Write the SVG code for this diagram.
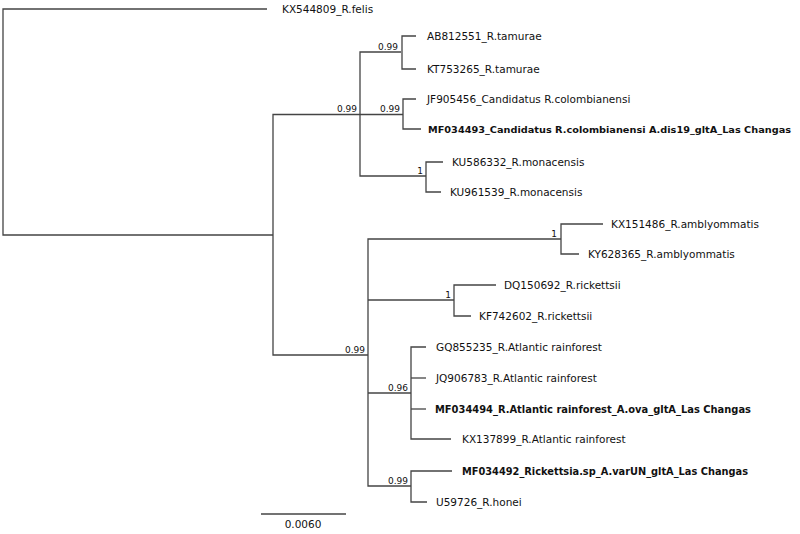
<svg xmlns="http://www.w3.org/2000/svg" width="800" height="534" viewBox="0 0 800 534">
<style>
.br{fill:none;stroke:#444;stroke-width:1.3}
.lf{font-family:"DejaVu Sans",Verdana,sans-serif;font-size:10.5px;fill:#111}
.b{font-weight:bold;font-size:10px}
.bs{font-family:"DejaVu Sans",Verdana,sans-serif;font-size:9px;fill:#111;text-anchor:end}
</style>
<rect width="800" height="534" fill="#fff"/>
<g id="connectors" class="br">
<path d="M267,9 H3 V235 H273"/>
<path d="M360,114.5 H273 V355 H368"/>
<path d="M401,52 H360 V176 H426"/>
<path d="M416,36 H402 V69 H416"/>
<path d="M360,114.5 H403"/>
<path d="M416,99 H403 V129 H421"/>
<path d="M443,162 H426 V192 H441"/>
<path d="M561,239 H368 V486 H411"/>
<path d="M603,224 H561 V254 H579"/>
<path d="M368,300 H454"/>
<path d="M496,285 H454 V316 H471"/>
<path d="M368,393 H411"/>
<path d="M426,347 H411 V439 H451"/>
<path d="M411,378 H426"/>
<path d="M411,409 H426"/>
<path d="M452,471 H411 V502 H427"/>
<path d="M261,514 H346"/>
</g>
<g id="support">
<text class="bs" x="357" y="112">0.99</text>
<text class="bs" x="398" y="50">0.99</text>
<text class="bs" x="400" y="112">0.99</text>
<text class="bs" x="423" y="174">1</text>
<text class="bs" x="365" y="353">0.99</text>
<text class="bs" x="557" y="237">1</text>
<text class="bs" x="451" y="298">1</text>
<text class="bs" x="408" y="391">0.96</text>
<text class="bs" x="408" y="484">0.99</text>
</g>
<g id="n-felis"><text class="lf" x="282" y="13">KX544809_R.felis</text></g>
<g id="n-ab812551"><text class="lf" x="427" y="40">AB812551_R.tamurae</text></g>
<g id="n-kt753265"><text class="lf" x="427" y="73">KT753265_R.tamurae</text></g>
<g id="n-jf905456"><text class="lf" x="427" y="103">JF905456_Candidatus R.colombianensi</text></g>
<g id="n-mf034493"><text class="lf b" x="428" y="133" style="font-size:9.4px" textLength="363" lengthAdjust="spacingAndGlyphs">MF034493_Candidatus R.colombianensi A.dis19_gltA_Las Changas</text></g>
<g id="n-ku586332"><text class="lf" x="452" y="166">KU586332_R.monacensis</text></g>
<g id="n-ku961539"><text class="lf" x="450" y="196">KU961539_R.monacensis</text></g>
<g id="n-kx151486"><text class="lf" x="611" y="228">KX151486_R.amblyommatis</text></g>
<g id="n-ky628365"><text class="lf" x="588" y="258">KY628365_R.amblyommatis</text></g>
<g id="n-dq150692"><text class="lf" x="504" y="289">DQ150692_R.rickettsii</text></g>
<g id="n-kf742602"><text class="lf" x="479" y="320">KF742602_R.rickettsii</text></g>
<g id="n-gq855235"><text class="lf" x="436" y="351">GQ855235_R.Atlantic rainforest</text></g>
<g id="n-jq906783"><text class="lf" x="436" y="382">JQ906783_R.Atlantic rainforest</text></g>
<g id="n-mf034494"><text class="lf b" x="435" y="413" textLength="316" lengthAdjust="spacingAndGlyphs">MF034494_R.Atlantic rainforest_A.ova_gltA_Las Changas</text></g>
<g id="n-kx137899"><text class="lf" x="462" y="443">KX137899_R.Atlantic rainforest</text></g>
<g id="n-mf034492"><text class="lf b" x="462" y="475" textLength="286" lengthAdjust="spacingAndGlyphs">MF034492_Rickettsia.sp_A.varUN_gltA_Las Changas</text></g>
<g id="n-u59726"><text class="lf" x="436" y="506">U59726_R.honei</text></g>
<g id="scale"><text class="lf" x="303" y="528" text-anchor="middle">0.0060</text></g>
</svg>
